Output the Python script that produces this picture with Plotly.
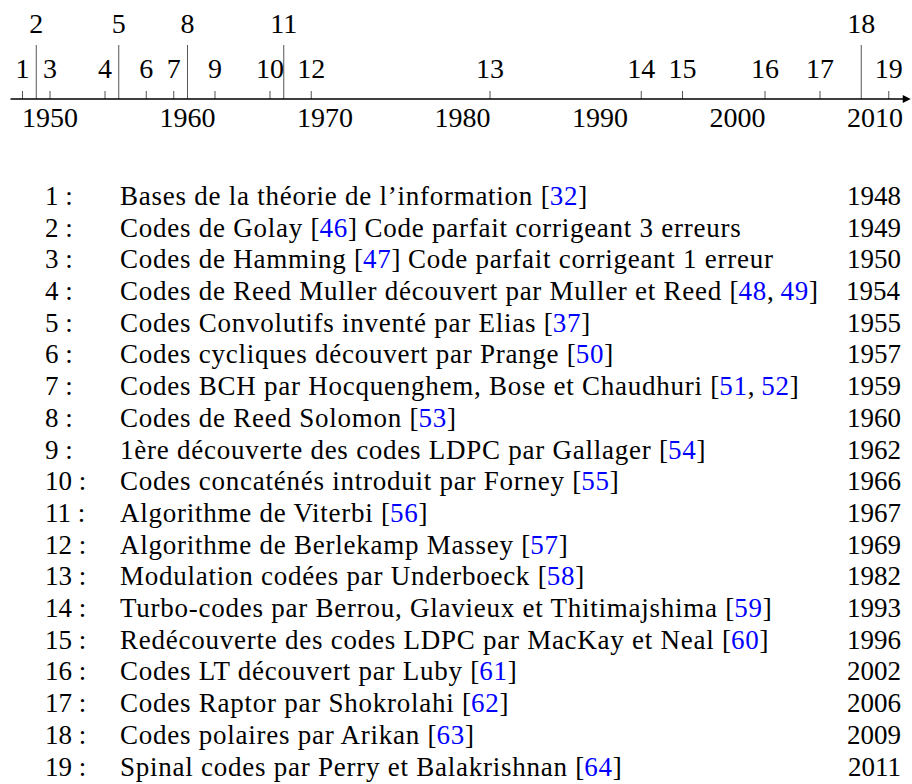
import re

import plotly.graph_objects as go

# Events (number, year) on the timeline
event_nums = list(range(1, 20))
event_years = [1948, 1949, 1950, 1954, 1955, 1957, 1959, 1960, 1962, 1966,
               1967, 1969, 1982, 1993, 1996, 2002, 2006, 2009, 2011]
# 1 = label lifted above on a tall line
event_raised = [0, 1, 0, 0, 1, 0, 0, 1, 0, 0, 1, 0, 0, 0, 0, 0, 0, 1, 0]
decades = [1950, 1960, 1970, 1980, 1990, 2000, 2010]

descriptions = [
    "Bases de la théorie de l’information [32]",
    "Codes de Golay [46] Code parfait corrigeant 3 erreurs",
    "Codes de Hamming [47] Code parfait corrigeant 1 erreur",
    "Codes de Reed Muller découvert par Muller et Reed [48, 49]",
    "Codes Convolutifs inventé par Elias [37]",
    "Codes cycliques découvert par Prange [50]",
    "Codes BCH par Hocquenghem, Bose et Chaudhuri [51, 52]",
    "Codes de Reed Solomon [53]",
    "1ère découverte des codes LDPC par Gallager [54]",
    "Codes concaténés introduit par Forney [55]",
    "Algorithme de Viterbi [56]",
    "Algorithme de Berlekamp Massey [57]",
    "Modulation codées par Underboeck [58]",
    "Turbo-codes par Berrou, Glavieux et Thitimajshima [59]",
    "Redécouverte des codes LDPC par MacKay et Neal [60]",
    "Codes LT découvert par Luby [61]",
    "Codes Raptor par Shokrolahi [62]",
    "Codes polaires par Arikan [63]",
    "Spinal codes par Perry et Balakrishnan [64]",
]

FONT = "Liberation Serif"
REF_BLUE = "#0000ff"
TICK_H = 8      # small tick height (px units on timeline axis)
TALL_H = 54     # tall line height
LOW_Y = 28      # label level for normal ticks
HIGH_Y = 73     # label level for raised ticks
SPACING = "letter-spacing:0.75px"


def colour_refs(text):
    def repl(m):
        nums = [n.strip() for n in m.group(1).split(",")]
        inner = ", ".join(f"<span style='color:{REF_BLUE};{SPACING}'>{n}</span>" for n in nums)
        return f"</span>[{inner}]<span style='{SPACING}'>"
    out = re.sub(r"\[([\d, ]+)\]", repl, text)
    return f"<span style='{SPACING}'>{out}</span>"


fig = go.Figure()

# event ticks
tx, ty = [], []
for yr, r in zip(event_years, event_raised):
    tx += [yr, yr, None]
    ty += [0, TALL_H if r else TICK_H, None]
fig.add_trace(go.Scatter(x=tx, y=ty, mode="lines",
                         line=dict(color="#555555", width=1),
                         hoverinfo="skip", showlegend=False))

# event numbers
fig.add_trace(go.Scatter(
    x=event_years,
    y=[HIGH_Y if r else LOW_Y for r in event_raised],
    mode="text", text=[str(n) for n in event_nums],
    textposition="middle center",
    textfont=dict(family=FONT, size=28, color="black"),
    hoverinfo="skip", showlegend=False))

# decade labels
fig.add_trace(go.Scatter(
    x=decades, y=[-21] * len(decades), mode="text",
    text=[str(d) for d in decades], textposition="middle center",
    textfont=dict(family=FONT, size=28, color="black"),
    hoverinfo="skip", showlegend=False))

# main axis arrow
fig.add_annotation(x=2012.6, y=0, ax=1947.02, ay=0, xref="x", yref="y",
                   axref="x", ayref="y", showarrow=True, arrowhead=2,
                   arrowsize=1, arrowwidth=1.6, arrowcolor="black", text="")

# table rows
for i, (n, desc, yr) in enumerate(zip(event_nums, descriptions, event_years)):
    row = i + 1
    fig.add_annotation(x=43 / 912, y=row, xref="paper", yref="y2",
                       text=f"{n} :", showarrow=False, xanchor="left",
                       yanchor="middle",
                       font=dict(family=FONT, size=27, color="black"))
    fig.add_annotation(x=118 / 912, y=row, xref="paper", yref="y2",
                       text=colour_refs(desc), showarrow=False,
                       xanchor="left", yanchor="middle",
                       font=dict(family=FONT, size=27, color="black"))
    fig.add_annotation(x=903 / 912, y=row, xref="paper", yref="y2",
                       text=str(yr), showarrow=False, xanchor="right",
                       yanchor="middle",
                       font=dict(family=FONT, size=27, color="black"))

fig.update_layout(
    width=912, height=784,
    margin=dict(l=0, r=0, t=0, b=0),
    paper_bgcolor="white", plot_bgcolor="white",
    hovermode=False,
    xaxis=dict(range=[1946.364, 2012.69], domain=[0, 1], visible=False,
               fixedrange=True),
    yaxis=dict(range=[-51, 99], domain=[1 - 150 / 784, 1], visible=False,
               fixedrange=True),
    yaxis2=dict(range=[19.55, 0.18], domain=[0, 1 - 170 / 784],
                visible=False, fixedrange=True),
)
# anchor the table axis
fig.add_trace(go.Scatter(x=[None], y=[None], yaxis="y2", showlegend=False))

fig.write_html("out.html", config={"displayModeBar": False},
               post_script="document.body.style.margin='0';")
